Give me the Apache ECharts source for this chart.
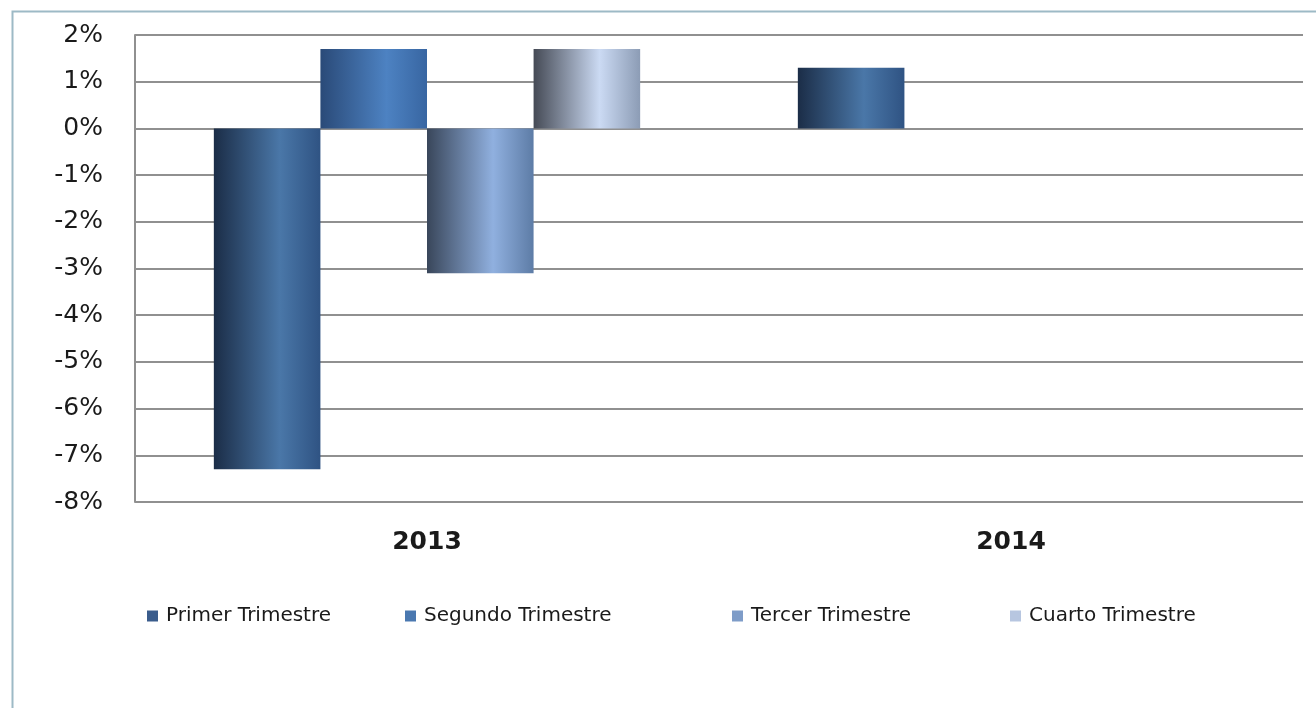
<!DOCTYPE html>
<html>
<head>
<meta charset="utf-8">
<script src="https://cdn.jsdelivr.net/npm/echarts@6/dist/echarts.min.js"></script>
<style>
  html, body { margin: 0; padding: 0; background: #ffffff; }
  #chart { width: 1316px; height: 708px; }
</style>
</head>
<body>
<div id="chart"></div>
<script>
// Quarterly variation by year (percent)
const years = ['2013', '2014'];
const primerTrimestre = [-7.3, 1.3];
const segundoTrimestre = [1.7, null];
const tercerTrimestre = [-3.1, null];
const cuartoTrimestre = [1.7, null];
const seriesNames = ['Primer Trimestre', 'Segundo Trimestre', 'Tercer Trimestre', 'Cuarto Trimestre'];
const yTicks = { min: -8, max: 2, step: 1 };

const FONT = "'DejaVu Sans', 'Liberation Sans', sans-serif";

// Horizontal "cylinder" shading for each series
function shade(stops) {
  return new echarts.graphic.LinearGradient(0, 0, 1, 0, stops.map((c, i) => ({
    offset: [0, 0.62, 1][i], color: c
  })));
}
const fills = [
  shade(['#1b2d47', '#4a77a8', '#2f5383']),
  shade(['#2a4a78', '#4d82c2', '#3866a2']),
  shade(['#39465a', '#90b0df', '#5d7ca6']),
  shade(['#454a55', '#cbdaf3', '#8c9cb5'])
];
const legendColors = ['#3a5c8c', '#4a78b0', '#7e9cc8', '#b7c6e0'];
const seriesData = [primerTrimestre, segundoTrimestre, tercerTrimestre, cuartoTrimestre];
const legendLeft = [142, 400, 727, 1005];

const chart = echarts.init(document.getElementById('chart'));

chart.setOption({
  backgroundColor: '#ffffff',
  animation: false,
  graphic: [{
    type: 'rect',
    left: 10, top: 9,
    shape: { width: 1400, height: 800 },
    style: { fill: 'none', stroke: '#9dbac6', lineWidth: 2 },
    silent: true
  }],
  grid: { left: 135, right: 13, top: 35, bottom: 206, containLabel: false },
  legend: seriesNames.map((n, i) => ({
    data: [{ name: n, itemStyle: { color: legendColors[i] } }],
    left: legendLeft[i],
    top: 601,
    itemWidth: 11,
    itemHeight: 11,
    icon: 'rect',
    selectedMode: false,
    textStyle: { fontFamily: FONT, fontSize: 20, color: '#1a1a1a', padding: [0, 0, 0, 3] }
  })),
  xAxis: {
    type: 'category',
    data: years,
    position: 'bottom',
    axisLine: { show: false, onZero: false },
    axisTick: { show: false },
    axisLabel: { fontFamily: FONT, fontSize: 25, fontWeight: 'bold', color: '#1a1a1a', margin: 28 },
    splitLine: { show: false }
  },
  yAxis: {
    type: 'value',
    min: yTicks.min,
    max: yTicks.max,
    interval: yTicks.step,
    axisLine: { show: true, lineStyle: { color: '#909090', width: 2 } },
    axisTick: { show: false },
    axisLabel: {
      fontFamily: FONT, fontSize: 25, color: '#1a1a1a', margin: 32,
      formatter: v => v + '%'
    },
    splitLine: { show: true, lineStyle: { color: '#909090', width: 2 } }
  },
  series: seriesNames.map((n, i) => ({
    name: n,
    type: 'bar',
    data: seriesData[i],
    barGap: '0%',
    barCategoryGap: '27%',
    itemStyle: { color: fills[i] }
  }))
});
</script>
</body>
</html>
